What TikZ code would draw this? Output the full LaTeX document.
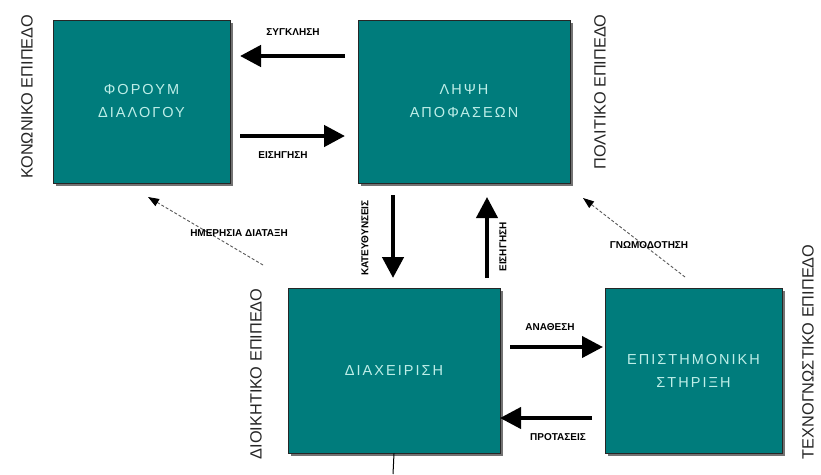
\documentclass[tikz,border=0pt]{standalone}
\usepackage{fontspec}
\setmainfont{Liberation Sans}
\usetikzlibrary{arrows.meta,shadows}
\definecolor{boxteal}{RGB}{0,124,124}
\definecolor{boxtext}{RGB}{190,238,232}
\begin{document}
\begin{tikzpicture}[x=1pt,y=-1pt,
  boxnode/.style={draw=black!85, line width=0.9pt, fill=boxteal, inner sep=0pt,
    text=boxtext, align=center,
    font=\fontsize{14.5}{23}\selectfont\addfontfeature{LetterSpace=14},
    drop shadow={shadow xshift=2.5pt, shadow yshift=-2.5pt, fill=black!55, opacity=1}},
  sidelabel/.style={rotate=90, inner sep=0pt, text=black!85,
    font=\fontsize{16.3}{17}\selectfont},
  arrlabel/.style={inner sep=0pt, text=black,
    font=\bfseries\fontsize{10}{11}\selectfont},
  thickarrow/.style={line width=4.5pt, -{Triangle[width=21pt,length=21pt]}},
  thinarrow/.style={line width=0.9pt, draw=black!65, densely dashed,
    -{Triangle[width=8pt,length=11pt,fill=black,color=black]}}
]
\useasboundingbox (0,0) rectangle (821,474);
\fill[white] (0,0) rectangle (821,474);

% boxes
\node[boxnode, minimum width=177pt, minimum height=163pt] (b1) at (141.5,101.5) {ΦΟΡΟΥΜ\\ΔΙΑΛΟΓΟΥ};
\node[boxnode, minimum width=212pt, minimum height=163pt] (b2) at (464,101.5) {ΛΗΨΗ\\ΑΠΟΦΑΣΕΩΝ};
\node[boxnode, minimum width=212pt, minimum height=165pt] (b3) at (394,370.5) {ΔΙΑΧΕΙΡΙΣΗ};
\node[boxnode, minimum width=177pt, minimum height=165pt] (b4) at (693.5,370.5) {ΕΠΙΣΤΗΜΟΝΙΚΗ\\ΣΤΗΡΙΞΗ};

% side labels
\node[sidelabel] (s1) at (27,97) {ΚΟΝΩΝΙΚΟ ΕΠΙΠΕΔΟ};
\node[sidelabel] (s2) at (600,92) {ΠΟΛΙΤΙΚΟ ΕΠΙΠΕΔΟ};
\node[sidelabel] (s3) at (256,374) {ΔΙΟΙΚΗΤΙΚΟ ΕΠΙΠΕΔΟ};
\node[sidelabel] (s4) at (808,352) {ΤΕΧΝΟΓΝΩΣΤΙΚΟ ΕΠΙΠΕΔΟ};

% arrow end coordinates
\coordinate (a1s) at (345,56);  \coordinate (a1e) at (240,56);
\coordinate (a2s) at (240,136); \coordinate (a2e) at (345,136);
\coordinate (a3s) at (393,195); \coordinate (a3e) at (393,278);
\coordinate (a4s) at (487,278); \coordinate (a4e) at (487,197);
\coordinate (a5s) at (263,265); \coordinate (a5e) at (148,197);
\coordinate (a6s) at (685,277); \coordinate (a6e) at (583,198);
\coordinate (a7s) at (510,347); \coordinate (a7e) at (603,347);
\coordinate (a8s) at (592,418); \coordinate (a8e) at (500,418);
\coordinate (bot) at (393,474);

% arrows
\draw[thickarrow] (a1s) -- (a1e);
\draw[thickarrow] (a2s) -- (a2e);
\draw[thickarrow] (a3s) -- (a3e);
\draw[thickarrow, line width=4pt] (a4s) -- (a4e);
\draw[thinarrow] (a5s) -- (a5e);
\draw[thinarrow] (a6s) -- (a6e);
\draw[thickarrow, line width=4pt] (a7s) -- (a7e);
\draw[thickarrow, line width=4pt] (a8s) -- (a8e);
\draw[line width=1pt] (b3.south) -- (bot);

% arrow labels
\node[arrlabel] (l1) at (293,32) {ΣΥΓΚΛΗΣΗ};
\node[arrlabel] (l2) at (283,155) {ΕΙΣΗΓΗΣΗ};
\node[arrlabel, rotate=90] (l3) at (365,238) {ΚΑΤΕΥΘΥΝΣΕΙΣ};
\node[arrlabel, rotate=90] (l4) at (503,247) {ΕΙΣΗΓΗΣΗ};
\node[arrlabel] (l5) at (239,233) {ΗΜΕΡΗΣΙΑ ΔΙΑΤΑΞΗ};
\node[arrlabel] (l6) at (649,245) {ΓΝΩΜΟΔΟΤΗΣΗ};
\node[arrlabel] (l7) at (550,327) {ΑΝΑΘΕΣΗ};
\node[arrlabel] (l8) at (558,437) {ΠΡΟΤΑΣΕΙΣ};
\end{tikzpicture}
\end{document}
